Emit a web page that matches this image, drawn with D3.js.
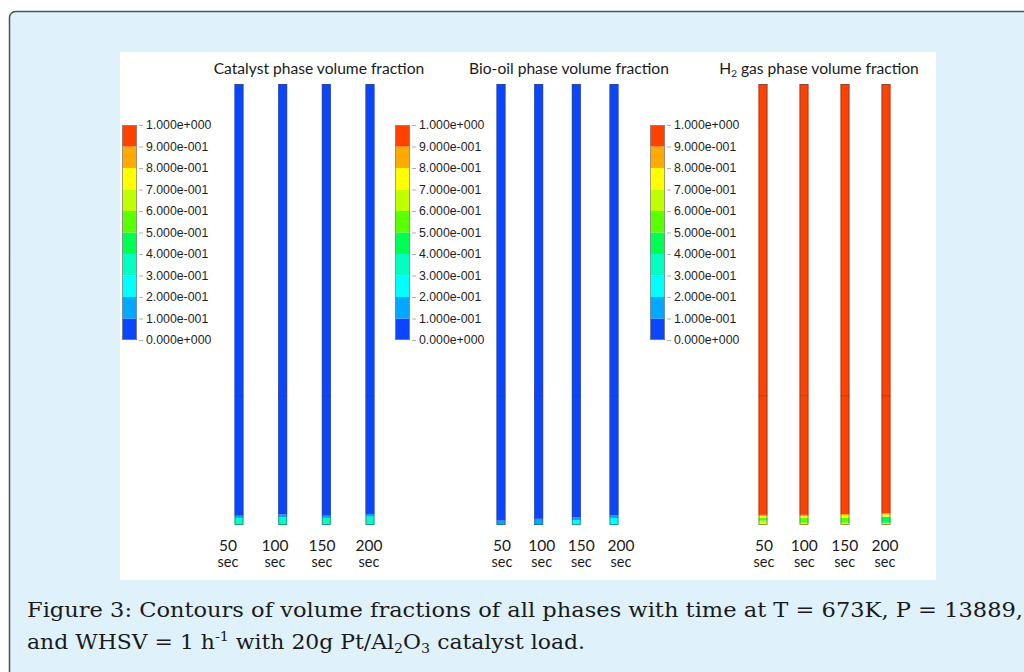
<!DOCTYPE html>
<html>
<head>
<meta charset="utf-8">
<script src="https://cdn.jsdelivr.net/npm/d3@7.9.0/dist/d3.min.js"></script>
<style>
  html, body { margin: 0; padding: 0; background: #fff; }
  svg { display: block; }
</style>
</head>
<body>
<svg id="chart" width="1024" height="672"></svg>
<script>
// times shown under each column
const times = ['50', '100', '150', '200'];

// contour levels and their labels on the legend
const levels = [0, 0.1, 0.2, 0.3, 0.4, 0.5, 0.6, 0.7, 0.8, 0.9, 1.0];
const levelLabels = ['0.000e+000', '1.000e-001', '2.000e-001', '3.000e-001', '4.000e-001',
  '5.000e-001', '6.000e-001', '7.000e-001', '8.000e-001', '9.000e-001', '1.000e+000'];
const bandColors = ['#0a46ff', '#00a8ff', '#00ffff', '#00ffc0', '#00ff55',
  '#5aff00', '#c0ff00', '#ffff00', '#ffaa00', '#ff4200'];

// column profiles, bottom up: [top of band as fraction of reactor height, volume fraction]
const catalystProfiles = [
  [[0.016, 0.35], [0.021, 0.15], [1, 0.05]],
  [[0.018, 0.35], [0.024, 0.15], [1, 0.05]],
  [[0.016, 0.35], [0.021, 0.15], [1, 0.05]],
  [[0.019, 0.35], [0.025, 0.15], [1, 0.05]]
];
const bioOilProfiles = [
  [[0.010, 0.15], [1, 0.05]],
  [[0.014, 0.15], [1, 0.05]],
  [[0.011, 0.25], [0.018, 0.15], [1, 0.05]],
  [[0.016, 0.25], [0.022, 0.15], [1, 0.05]]
];
const h2Profiles = [
  [[0.005, 0.75], [0.010, 0.65], [0.016, 0.55], [0.020, 0.75], [0.023, 0.85], [1, 0.95]],
  [[0.005, 0.75], [0.016, 0.55], [0.020, 0.75], [0.023, 0.85], [1, 0.95]],
  [[0.005, 0.75], [0.017, 0.55], [0.022, 0.75], [0.025, 0.85], [1, 0.95]],
  [[0.005, 0.75], [0.019, 0.45], [0.024, 0.75], [0.027, 0.85], [1, 0.95]]
];

const panels = [
  { title: ['Catalyst phase volume fraction'], profiles: catalystProfiles,
    titleX: 319, legendX: 122, cols: [239, 370], labels: [228, 369] },
  { title: ['Bio-oil phase volume fraction'], profiles: bioOilProfiles,
    titleX: 569, legendX: 395, cols: [501, 614], labels: [502, 621] },
  { title: ['H', '2', ' gas phase volume fraction'], profiles: h2Profiles,
    titleX: 819, legendX: 650, cols: [763, 886], labels: [764, 885] }
];

const meshLine = 0.293; // faint mesh interface seen on every column

const svg = d3.select('#chart');

// page frame
svg.append('rect')
  .attr('x', 9.5).attr('y', 11.5)
  .attr('width', 1100).attr('height', 700)
  .attr('rx', 6)
  .attr('fill', '#dff1fb')
  .attr('stroke', '#505050')
  .attr('stroke-width', 1.5);

svg.append('rect')
  .attr('x', 120).attr('y', 52)
  .attr('width', 816).attr('height', 528)
  .attr('fill', '#fff');

const colorOf = d3.scaleThreshold().domain(levels.slice(1, -1)).range(bandColors);
const y = d3.scaleLinear().domain([0, 1]).range([525, 84]);
const legendY = d3.scaleLinear().domain([0, 1]).range([340, 125]);
const colW = 9;

panels.forEach((p) => {
  const g = svg.append('g');

  // title
  const t = g.append('text')
    .attr('x', p.titleX).attr('y', 74)
    .attr('text-anchor', 'middle')
    .attr('font-family', 'Lato, "Open Sans", sans-serif')
    .attr('font-size', 15.6)
    .attr('fill', '#1a1a1a');
  if (p.title.length === 1) {
    t.text(p.title[0]);
  } else {
    t.append('tspan').text(p.title[0]);
    t.append('tspan').attr('font-size', 10).attr('dy', 3).text(p.title[1]);
    t.append('tspan').attr('dy', -3).text(p.title[2]);
  }

  // legend colour bar
  const bands = d3.range(bandColors.length);
  g.selectAll('rect.band')
    .data(bands)
    .join('rect')
    .attr('class', 'band')
    .attr('x', p.legendX)
    .attr('width', 15)
    .attr('y', (i) => legendY(levels[i + 1]))
    .attr('height', (i) => legendY(levels[i]) - legendY(levels[i + 1]))
    .attr('fill', (i) => bandColors[i]);
  g.append('rect')
    .attr('x', p.legendX + 0.5).attr('y', legendY(1) + 0.5)
    .attr('width', 14).attr('height', legendY(0) - legendY(1) - 1)
    .attr('fill', 'none').attr('stroke', '#8a8a8a').attr('stroke-width', 0.8);

  const axis = d3.axisRight(legendY)
    .tickValues(levels)
    .tickSize(4)
    .tickPadding(3)
    .tickFormat((d, i) => levelLabels[i]);
  const ax = g.append('g')
    .attr('transform', `translate(${p.legendX + 17},0)`)
    .call(axis);
  ax.select('.domain').remove();
  ax.selectAll('line').attr('stroke', '#b0b0b0');
  ax.selectAll('text')
    .attr('font-family', '"Liberation Sans", Arial, sans-serif')
    .attr('font-size', 12.3)
    .attr('fill', '#1e1e1e');

  // columns
  const x = d3.scalePoint().domain(times).range(p.cols);
  const xl = d3.scalePoint().domain(times).range(p.labels);

  times.forEach((tm, ci) => {
    const prof = p.profiles[ci];
    const cx = x(tm) - colW / 2;
    const segs = prof.map(([top, v], k) => ({ lo: k === 0 ? 0 : prof[k - 1][0], hi: top, v }));
    g.selectAll(null)
      .data(segs)
      .join('rect')
      .attr('x', cx)
      .attr('width', colW)
      .attr('y', (d) => y(d.hi))
      .attr('height', (d) => y(d.lo) - y(d.hi))
      .attr('fill', (d) => colorOf(d.v));
    g.append('line')
      .attr('x1', cx).attr('x2', cx + colW)
      .attr('y1', y(meshLine)).attr('y2', y(meshLine))
      .attr('stroke', 'rgba(60,60,60,0.35)').attr('stroke-width', 1);
    g.append('rect')
      .attr('x', cx + 0.5).attr('y', y(1) + 0.5)
      .attr('width', colW - 1).attr('height', y(0) - y(1) - 1)
      .attr('fill', 'none').attr('stroke', 'rgba(70,70,90,0.55)').attr('stroke-width', 1);

    g.append('text')
      .attr('x', xl(tm)).attr('y', 551)
      .attr('text-anchor', 'middle')
      .attr('font-family', 'Lato, "Open Sans", sans-serif')
      .attr('font-size', 15.5)
      .attr('fill', '#1a1a1a')
      .text(tm);
    g.append('text')
      .attr('x', xl(tm)).attr('y', 567)
      .attr('text-anchor', 'middle')
      .attr('font-family', 'Lato, "Open Sans", sans-serif')
      .attr('font-size', 14.5)
      .attr('fill', '#1a1a1a')
      .text('sec');
  });
});

// caption
const cap = svg.append('g')
  .attr('font-family', '"DejaVu Serif", serif')
  .attr('font-size', 20)
  .attr('fill', '#1a1a1a');
cap.append('text')
  .attr('x', 27).attr('y', 617)
  .attr('textLength', 996).attr('lengthAdjust', 'spacingAndGlyphs')
  .text('Figure 3: Contours of volume fractions of all phases with time at T = 673K, P = 13889,');
const l2 = cap.append('text').attr('x', 27).attr('y', 649)
  .attr('textLength', 558).attr('lengthAdjust', 'spacingAndGlyphs');
l2.append('tspan').text('and WHSV = 1 h');
l2.append('tspan').attr('font-size', 13).attr('dy', -8).text('-1');
l2.append('tspan').attr('dy', 8).text(' with 20g Pt/Al');
l2.append('tspan').attr('font-size', 13).attr('dy', 4).text('2');
l2.append('tspan').attr('dy', -4).text('O');
l2.append('tspan').attr('font-size', 13).attr('dy', 4).text('3');
l2.append('tspan').attr('dy', -4).text(' catalyst load.');
</script>
</body>
</html>
